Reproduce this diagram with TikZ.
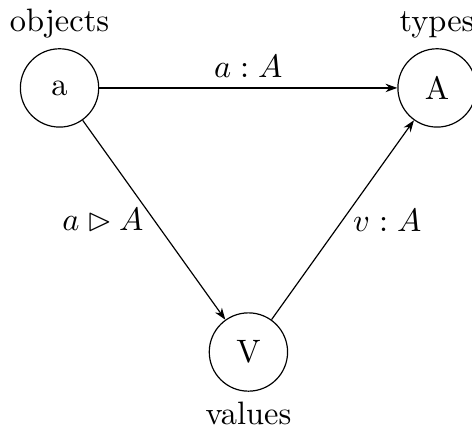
\documentclass[tikz,border=0pt]{standalone}
\usepackage{tikz}
\usetikzlibrary{arrows.meta,positioning}
\usepackage{amsmath,amssymb}

\begin{document}
\begin{tikzpicture}[
    every node/.style={font=\fontsize{10.95}{13.6}\selectfont},
    term/.style={draw, circle, minimum size=0.93cm, inner sep=0pt},
    rel/.style={-{Stealth[length=1.4mm,width=1.0mm]}}
]
\useasboundingbox (0,0) rectangle (5.605,-5.118);
\node[term, label=above:objects] (obj) at (0.707,-1.044) {a};
\node[term, label=above:types] (typ) at (5.19,-1.044) {A};
\node[term, label=below:values] (val) at (2.95,-4.18) {V};
\draw[rel] (obj) -- node[above] {$a : A$} (typ);
\draw[rel] (obj) -- node[left] {$a \rhd A$} (val);
\draw[rel] (val) -- node[right] {$v : A$} (typ);
\end{tikzpicture}
\end{document}
